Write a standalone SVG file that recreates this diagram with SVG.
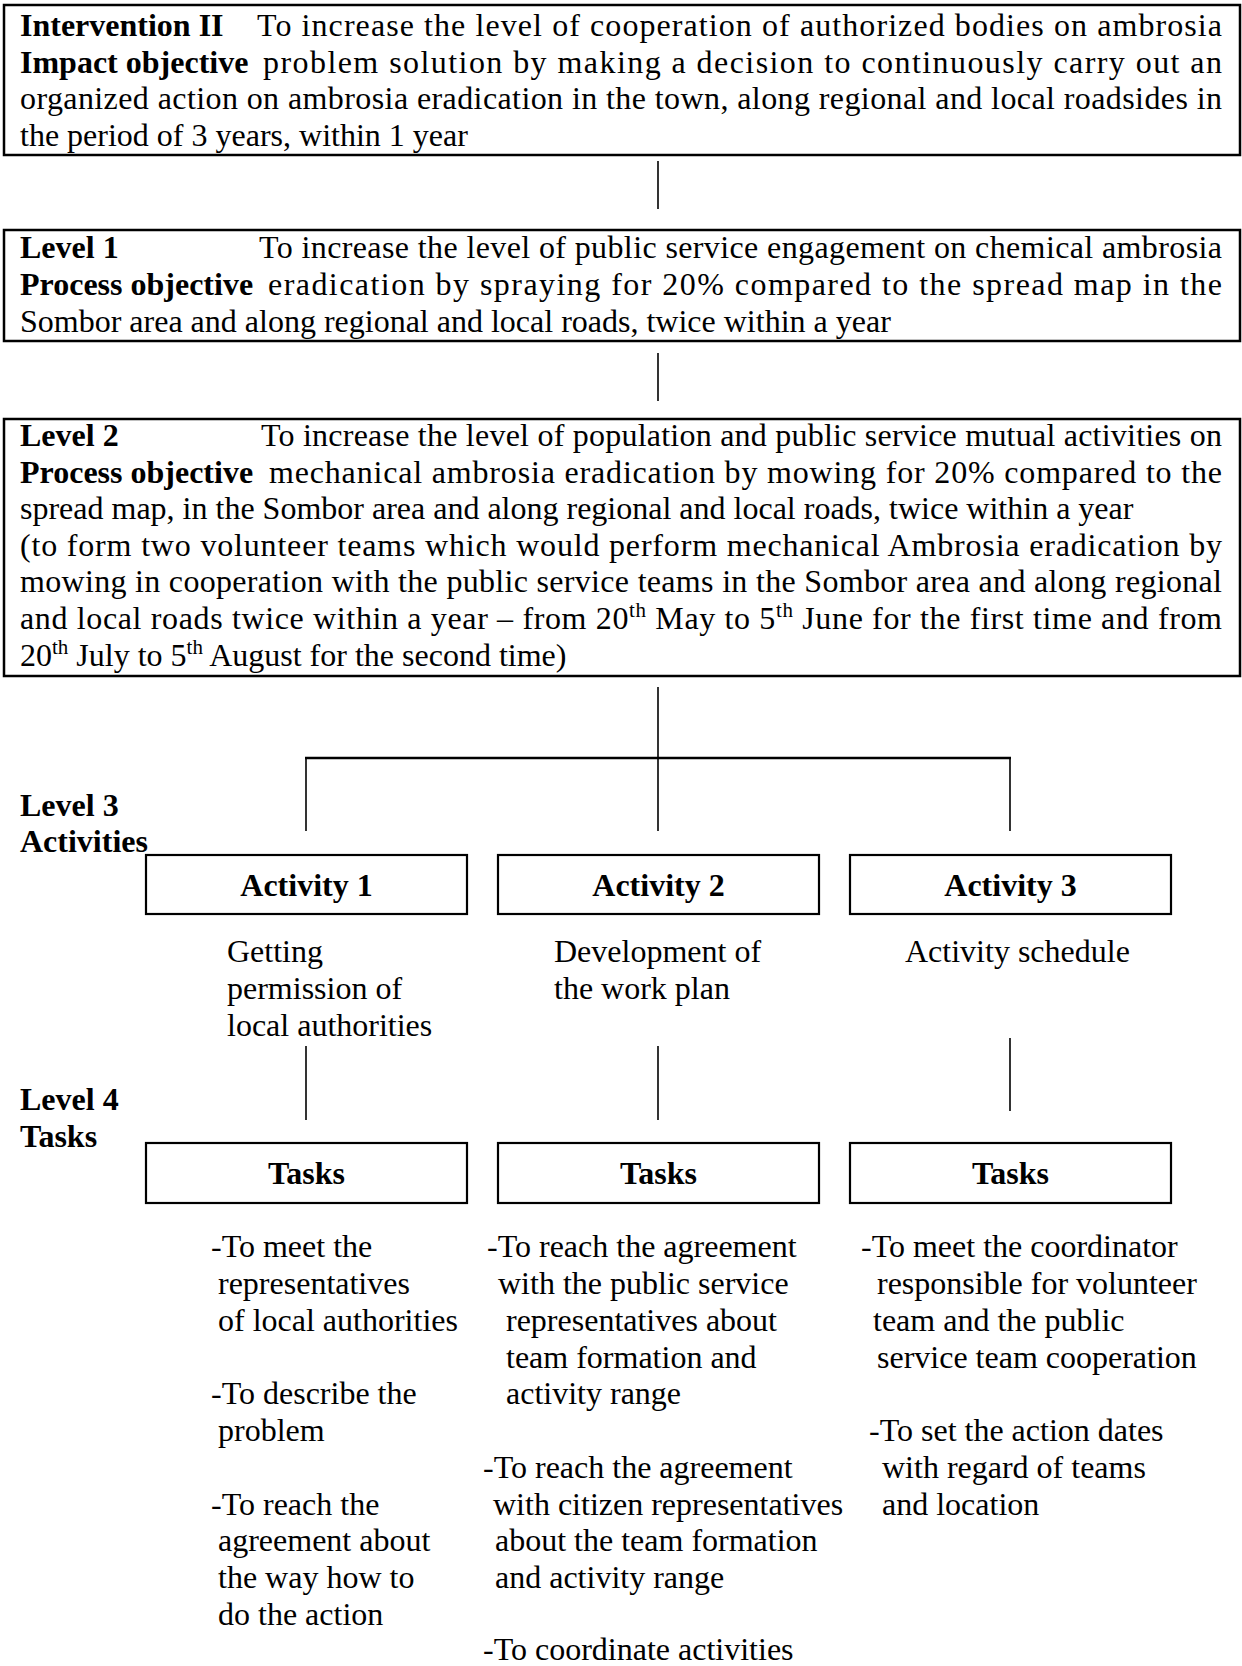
<svg xmlns="http://www.w3.org/2000/svg" width="1242" height="1666" viewBox="0 0 1242 1666">
<style>
text{font-family:"Liberation Serif","Times New Roman",serif;font-size:32px;fill:#000}
.b{font-weight:bold}
.c{text-anchor:middle}
.sup{font-size:21px}
.box{fill:#fff;stroke:#000;stroke-width:2.5}
.sbox{fill:#fff;stroke:#000;stroke-width:2.2}
.con line{stroke:#000;stroke-width:1.6}
.con .bar{stroke-width:2.4}
</style>
<rect width="1242" height="1666" fill="#fff"/>

<g id="connectors" class="con">
<line x1="658" y1="161" x2="658" y2="209"/>
<line x1="658" y1="353" x2="658" y2="401"/>
<line x1="658" y1="687" x2="658" y2="831"/>
<line class="bar" x1="305" y1="758" x2="1011" y2="758"/>
<line x1="306" y1="758" x2="306" y2="831"/>
<line x1="1010" y1="758" x2="1010" y2="831"/>
<line x1="306" y1="1046" x2="306" y2="1120"/>
<line x1="658" y1="1046" x2="658" y2="1120"/>
<line x1="1010" y1="1038" x2="1010" y2="1111"/>
</g>

<g id="intervention">
<rect class="box" x="4" y="5" width="1236" height="150"/>
<text class="b" x="20" y="36">Intervention II</text>
<text x="257" y="36" textLength="965" lengthAdjust="spacing">To increase the level of cooperation of authorized bodies on ambrosia</text>
<text class="b" x="20" y="73">Impact objective</text>
<text x="263" y="73" textLength="959" lengthAdjust="spacing">problem solution by making a decision to continuously carry out an</text>
<text x="20" y="109" textLength="1202" lengthAdjust="spacing">organized action on ambrosia eradication in the town, along regional and local roadsides in</text>
<text x="20" y="146">the period of 3 years, within 1 year</text>
</g>

<g id="level1">
<rect class="box" x="4" y="230" width="1236" height="111"/>
<text class="b" x="20" y="258">Level 1</text>
<text x="259" y="258" textLength="963" lengthAdjust="spacing">To increase the level of public service engagement on chemical ambrosia</text>
<text class="b" x="20" y="295">Process objective</text>
<text x="268" y="295" textLength="954" lengthAdjust="spacing">eradication by spraying for 20% compared to the spread map in the</text>
<text x="20" y="332">Sombor area and along regional and local roads, twice within a year</text>
</g>

<g id="level2">
<rect class="box" x="4" y="419" width="1236" height="257"/>
<text class="b" x="20" y="446">Level 2</text>
<text x="261" y="446" textLength="961" lengthAdjust="spacing">To increase the level of population and public service mutual activities on</text>
<text class="b" x="20" y="482.6">Process objective</text>
<text x="269" y="482.6" textLength="953" lengthAdjust="spacing">mechanical ambrosia eradication by mowing for 20% compared to the</text>
<text x="20" y="519.2">spread map, in the Sombor area and along regional and local roads, twice within a year</text>
<text x="20" y="555.8" textLength="1202" lengthAdjust="spacing">(to form two volunteer teams which would perform mechanical Ambrosia eradication by</text>
<text x="20" y="592.4" textLength="1202" lengthAdjust="spacing">mowing in cooperation with the public service teams in the Sombor area and along regional</text>
<text x="20" y="629" textLength="1202" lengthAdjust="spacing">and local roads twice within a year – from 20<tspan class="sup" dy="-12">th</tspan><tspan dy="12"> May to 5</tspan><tspan class="sup" dy="-12">th</tspan><tspan dy="12"> June for the first time and from</tspan></text>
<text x="20" y="665.6">20<tspan class="sup" dy="-12">th</tspan><tspan dy="12"> July to 5</tspan><tspan class="sup" dy="-12">th</tspan><tspan dy="12"> August for the second time)</tspan></text>
</g>

<g id="level3-label">
<text class="b" x="20" y="816">Level 3</text>
<text class="b" x="20" y="852">Activities</text>
</g>

<g id="activity1">
<rect class="sbox" x="146" y="855" width="321" height="59"/>
<text class="b c" x="306.5" y="896">Activity 1</text>
<text x="227" y="962">Getting</text>
<text x="227" y="999">permission of</text>
<text x="227" y="1036">local authorities</text>
</g>

<g id="activity2">
<rect class="sbox" x="498" y="855" width="321" height="59"/>
<text class="b c" x="658.5" y="896">Activity 2</text>
<text x="554" y="962">Development of</text>
<text x="554" y="999">the work plan</text>
</g>

<g id="activity3">
<rect class="sbox" x="850" y="855" width="321" height="59"/>
<text class="b c" x="1010.5" y="896">Activity 3</text>
<text x="905" y="962">Activity schedule</text>
</g>

<g id="level4-label">
<text class="b" x="20" y="1110">Level 4</text>
<text class="b" x="20" y="1147">Tasks</text>
</g>

<g id="tasks1">
<rect class="sbox" x="146" y="1143" width="321" height="60"/>
<text class="b c" x="306.5" y="1184">Tasks</text>
<text x="211" y="1257">-To meet the</text>
<text x="218" y="1294">representatives</text>
<text x="218" y="1331">of local authorities</text>
<text x="211" y="1404">-To describe the</text>
<text x="218" y="1441">problem</text>
<text x="211" y="1515">-To reach the</text>
<text x="218" y="1551">agreement about</text>
<text x="218" y="1588">the way how to</text>
<text x="218" y="1625">do the action</text>
</g>

<g id="tasks2">
<rect class="sbox" x="498" y="1143" width="321" height="60"/>
<text class="b c" x="658.5" y="1184">Tasks</text>
<text x="487" y="1257">-To reach the agreement</text>
<text x="498" y="1294">with the public service</text>
<text x="506" y="1331">representatives about</text>
<text x="506" y="1368">team formation and</text>
<text x="506" y="1404">activity range</text>
<text x="483" y="1478">-To reach the agreement</text>
<text x="493" y="1515">with citizen representatives</text>
<text x="495" y="1551">about the team formation</text>
<text x="495" y="1588">and activity range</text>
<text x="483" y="1660">-To coordinate activities</text>
</g>

<g id="tasks3">
<rect class="sbox" x="850" y="1143" width="321" height="60"/>
<text class="b c" x="1010.5" y="1184">Tasks</text>
<text x="861" y="1257">-To meet the coordinator</text>
<text x="877" y="1294">responsible for volunteer</text>
<text x="873" y="1331">team and the  public</text>
<text x="877" y="1368">service team cooperation</text>
<text x="869" y="1441">-To set the action dates</text>
<text x="882" y="1478">with regard of teams</text>
<text x="882" y="1515">and location</text>
</g>
</svg>
